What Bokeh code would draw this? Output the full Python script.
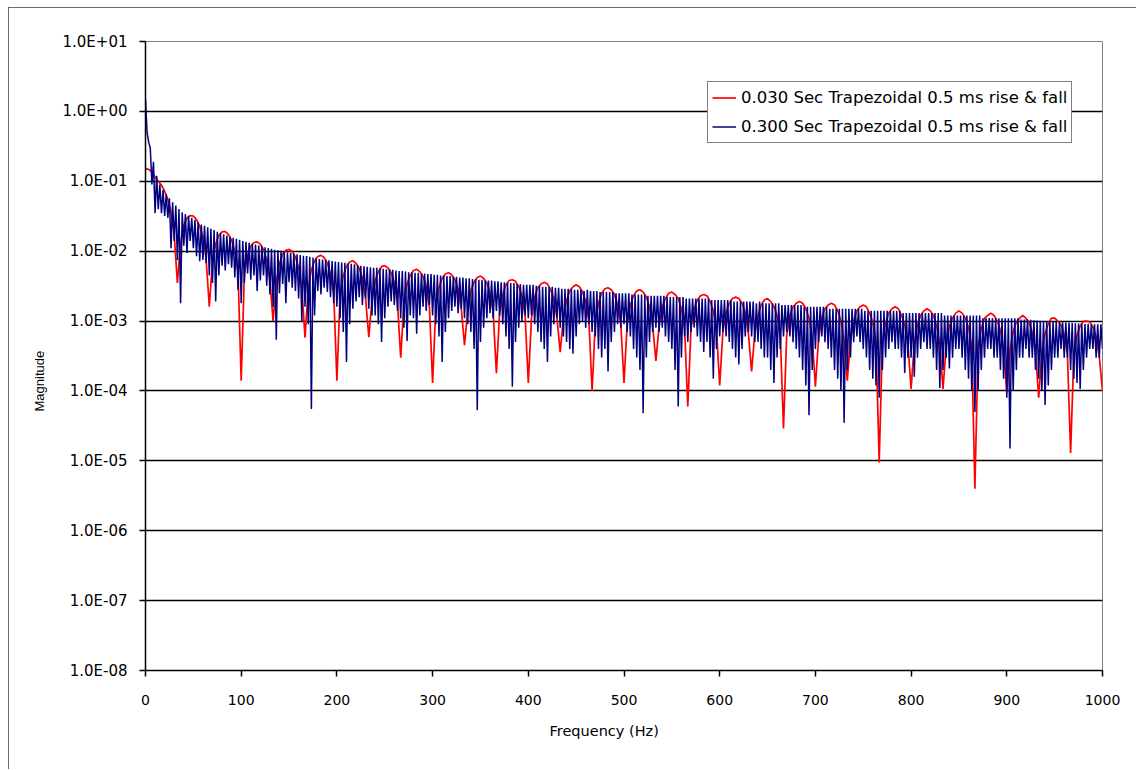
import numpy as np
from bokeh.plotting import figure
from bokeh.models import (Range1d, FixedTicker, CustomJSTickFormatter, Legend,
                          LegendItem, Title)
from bokeh.embed import file_html
from bokeh.resources import INLINE

# ---------------- data ----------------
# 0.030 s pulse: samples every 3.33 Hz from 0 to 1000 Hz (one row = one 33.3 Hz lobe)
red_mag = [
    0.152, 0.148, 0.135, 0.115, 0.1, 0.088, 0.072, 0.055, 0.036, 0.017,
    0.0035, 0.0134, 0.0235, 0.0297, 0.0324, 0.0318, 0.0283, 0.0228, 0.0156, 0.0078,
    0.0016, 0.0070, 0.0128, 0.0168, 0.0189, 0.0191, 0.0174, 0.0143, 0.0100, 0.0051,
    0.00014, 0.0048, 0.0088, 0.0117, 0.0133, 0.0136, 0.0126, 0.0104, 0.0074, 0.0038,
    0.001, 0.0036, 0.0067, 0.0090, 0.0103, 0.0106, 0.0099, 0.0082, 0.0058, 0.0030,
    0.00058, 0.0029, 0.0054, 0.0073, 0.0084, 0.0087, 0.0081, 0.0067, 0.0048, 0.0025,
    0.00014, 0.0024, 0.0045, 0.0061, 0.0070, 0.0073, 0.0067, 0.0057, 0.0041, 0.0021,
    0.00059, 0.0020, 0.0038, 0.0051, 0.0060, 0.0062, 0.0058, 0.0049, 0.0035, 0.0018,
    0.0003, 0.0018, 0.0034, 0.0045, 0.0053, 0.0055, 0.0051, 0.0043, 0.0031, 0.0016,
    0.00013, 0.0016, 0.0030, 0.0041, 0.0047, 0.0049, 0.0046, 0.0039, 0.0028, 0.0015,
    0.00045, 0.0014, 0.0027, 0.0036, 0.0042, 0.0044, 0.0041, 0.0035, 0.0025, 0.0013,
    0.00018, 0.0013, 0.0024, 0.0033, 0.0038, 0.0039, 0.0037, 0.0031, 0.0023, 0.0012,
    0.00013, 0.0011, 0.0022, 0.0030, 0.0034, 0.0036, 0.0034, 0.0028, 0.0021, 0.0011,
    0.00036, 0.0011, 0.0020, 0.0027, 0.0031, 0.0033, 0.0031, 0.0026, 0.0019, 0.0010,
    0.0001, 0.00096, 0.0018, 0.0025, 0.0029, 0.0030, 0.0028, 0.0024, 0.0017, 0.0009,
    0.00013, 0.0009, 0.0017, 0.0023, 0.0027, 0.0028, 0.0026, 0.0022, 0.0016, 0.00084,
    0.00027, 0.00084, 0.0016, 0.0021, 0.0025, 0.0026, 0.0024, 0.0021, 0.0015, 0.00078,
    0.00006, 0.00078, 0.0015, 0.0020, 0.0023, 0.0024, 0.0023, 0.0019, 0.0014, 0.00072,
    0.00012, 0.00071, 0.0013, 0.0018, 0.0021, 0.0022, 0.0021, 0.0018, 0.0013, 0.00066,
    0.00019, 0.00066, 0.0012, 0.0017, 0.0020, 0.0021, 0.0019, 0.0016, 0.0012, 0.00062,
    0.000029, 0.00062, 0.0012, 0.0016, 0.0018, 0.0019, 0.0018, 0.0015, 0.0011, 0.00057,
    0.000115, 0.00057, 0.0011, 0.0015, 0.0017, 0.0018, 0.0017, 0.0014, 0.0010, 0.00053,
    0.00014, 0.00053, 0.0010, 0.0014, 0.0016, 0.0017, 0.0016, 0.0013, 0.00095, 0.0005,
    0.0000095, 0.0005, 0.00094, 0.0013, 0.0015, 0.0016, 0.0015, 0.0012, 0.00089, 0.00047,
    0.000107, 0.00047, 0.00089, 0.0012, 0.0014, 0.0015, 0.0014, 0.0012, 0.00086, 0.00045,
    0.000107, 0.00044, 0.00084, 0.0011, 0.0013, 0.0014, 0.0013, 0.0011, 0.00081, 0.00042,
    0.000004, 0.00042, 0.00079, 0.0011, 0.0012, 0.0013, 0.0012, 0.0010, 0.00074, 0.00039,
    0.000095, 0.00038, 0.00071, 0.00097, 0.0011, 0.0012, 0.0011, 0.00094, 0.00068, 0.00036,
    0.00008, 0.00035, 0.00067, 0.00091, 0.0011, 0.0011, 0.0010, 0.00088, 0.00064, 0.00034,
    0.000013, 0.00033, 0.00062, 0.00085, 0.00099, 0.0010, 0.00097, 0.00082, 0.0006, 0.00031,
    0.0001,
]

# 0.300 s pulse: samples every 1.67 Hz from 0 to 1000 Hz (one row = 20 Hz)
blue_mag = [
    1.5, 0.5, 0.36, 0.3, 0.09, 0.19, 0.035, 0.12, 0.04, 0.09, 0.035, 0.075,
    0.032, 0.065, 0.03, 0.057, 0.011, 0.05, 0.014, 0.045, 0.0074, 0.04, 0.0018, 0.036,
    0.012, 0.034, 0.0094, 0.032, 0.014, 0.030, 0.011, 0.028, 0.0085, 0.026, 0.0072, 0.024,
    0.0075, 0.023, 0.0067, 0.022, 0.0045, 0.021, 0.0035, 0.020, 0.0019, 0.019, 0.0045, 0.018,
    0.0062, 0.0175, 0.0053, 0.0168, 0.0065, 0.016, 0.0058, 0.0155, 0.0042, 0.015, 0.0028, 0.0145,
    0.0018, 0.014, 0.0035, 0.0136, 0.0048, 0.0132, 0.0039, 0.0128, 0.0045, 0.0124, 0.0027, 0.012,
    0.0038, 0.0117, 0.0045, 0.0114, 0.0032, 0.0111, 0.0024, 0.0108, 0.0016, 0.0105, 0.00054, 0.0103,
    0.0025, 0.0101, 0.0034, 0.0098, 0.0018, 0.0096, 0.0036, 0.0094, 0.003, 0.0092, 0.0027, 0.009,
    0.0021, 0.0088, 0.001, 0.0086, 0.0016, 0.0085, 0.0009, 0.0083, 0.000055, 0.0081, 0.0012, 0.0079,
    0.0027, 0.0077, 0.0024, 0.0076, 0.003, 0.0075, 0.0026, 0.0074, 0.0022, 0.0072, 0.0018, 0.0071,
    0.0016, 0.007, 0.0011, 0.0069, 0.0007, 0.0068, 0.00026, 0.0067, 0.0009, 0.0066, 0.0015, 0.0065,
    0.0019, 0.0063, 0.0022, 0.0062, 0.0017, 0.0061, 0.0021, 0.006, 0.0015, 0.0059, 0.0012, 0.0058,
    0.0012, 0.0058, 0.0009, 0.0057, 0.0005, 0.0056, 0.0011, 0.0055, 0.0016, 0.0055, 0.0019, 0.0054,
    0.0017, 0.0053, 0.0014, 0.0052, 0.0011, 0.0052, 0.0008, 0.0051, 0.00052, 0.005, 0.0012, 0.005,
    0.0011, 0.0049, 0.00066, 0.0049, 0.0012, 0.0048, 0.0016, 0.0048, 0.0014, 0.0047, 0.0017, 0.0047,
    0.0012, 0.0046, 0.0009, 0.0046, 0.0006, 0.0045, 0.00026, 0.0045, 0.0007, 0.0044, 0.0011, 0.0044,
    0.0014, 0.0043, 0.0016, 0.0043, 0.0013, 0.0042, 0.0015, 0.0042, 0.0011, 0.0041, 0.0009, 0.0041,
    0.0007, 0.004, 0.0004, 0.004, 0.000053, 0.0039, 0.0005, 0.0039, 0.0008, 0.0038, 0.0011, 0.0038,
    0.0013, 0.0038, 0.0011, 0.0037, 0.0014, 0.0037, 0.0012, 0.0036, 0.0009, 0.0036, 0.0006, 0.0035,
    0.0004, 0.0035, 0.000115, 0.0035, 0.0005, 0.0034, 0.0008, 0.0034, 0.001, 0.0033, 0.0012, 0.0033,
    0.0011, 0.0033, 0.0012, 0.0033, 0.0009, 0.0032, 0.0007, 0.0032, 0.0005, 0.0031, 0.0004, 0.0031,
    0.00026, 0.0031, 0.0006, 0.0031, 0.0009, 0.003, 0.0011, 0.003, 0.0008, 0.0029, 0.0006, 0.0029,
    0.0005, 0.0029, 0.0004, 0.0029, 0.00034, 0.0028, 0.0006, 0.0028, 0.0009, 0.0028, 0.001, 0.0027,
    0.0008, 0.0028, 0.0009, 0.0027, 0.0007, 0.0027, 0.0006, 0.0027, 0.0004, 0.0026, 0.0003, 0.0026,
    0.0004, 0.0026, 0.00019, 0.0026, 0.0005, 0.0026, 0.0007, 0.0025, 0.0009, 0.0025, 0.0008, 0.0025,
    0.0009, 0.0025, 0.0007, 0.0025, 0.0006, 0.0024, 0.0004, 0.0024, 0.0003, 0.0024, 0.0002, 0.0024,
    0.000048, 0.0024, 0.0003, 0.0023, 0.0005, 0.0023, 0.0007, 0.0023, 0.0008, 0.0023, 0.0007, 0.0023,
    0.0008, 0.0023, 0.0006, 0.0022, 0.0005, 0.0022, 0.0004, 0.0022, 0.0002, 0.0022, 0.00006, 0.0022,
    0.0003, 0.0022, 0.0006, 0.0021, 0.0005, 0.0021, 0.0007, 0.0021, 0.0008, 0.0021, 0.0006, 0.0021,
    0.0005, 0.0021, 0.00036, 0.0021, 0.0005, 0.0021, 0.0003, 0.002, 0.00015, 0.002, 0.0004, 0.002,
    0.0006, 0.002, 0.0007, 0.002, 0.0006, 0.002, 0.0005, 0.002, 0.0004, 0.0019, 0.0003, 0.0019,
    0.00024, 0.0019, 0.0004, 0.0019, 0.0006, 0.0019, 0.0007, 0.0019, 0.0006, 0.0019, 0.0005, 0.0018,
    0.0005, 0.0019, 0.0004, 0.0018, 0.0003, 0.0018, 0.0003, 0.0018, 0.0002, 0.0018, 0.00013, 0.0018,
    0.0003, 0.0018, 0.0004, 0.0017, 0.0006, 0.0017, 0.0007, 0.0017, 0.0006, 0.0017, 0.0005, 0.0017,
    0.0004, 0.0017, 0.0003, 0.0017, 0.0002, 0.0016, 0.00012, 0.0016, 0.000045, 0.0016, 0.0002, 0.0016,
    0.0004, 0.0016, 0.0005, 0.0016, 0.0006, 0.0016, 0.0005, 0.0016, 0.0004, 0.0015, 0.0003, 0.0015,
    0.0002, 0.0015, 0.00015, 0.0015, 0.0001, 0.0015, 0.000035, 0.0015, 0.0002, 0.0015, 0.0003, 0.0015,
    0.0005, 0.0015, 0.0006, 0.0015, 0.0005, 0.0015, 0.0004, 0.0014, 0.0003, 0.0014, 0.0002, 0.0014,
    0.00015, 0.0014, 0.00012, 0.0014, 0.00008, 0.0014, 0.0002, 0.0014, 0.0003, 0.0014, 0.0004, 0.0014,
    0.0005, 0.0014, 0.0004, 0.0014, 0.0004, 0.0014, 0.0003, 0.0013, 0.00018, 0.0013, 0.0003, 0.0013,
    0.0003, 0.0013, 0.00016, 0.0013, 0.0003, 0.0013, 0.0004, 0.0013, 0.0005, 0.0013, 0.0004, 0.0013,
    0.0004, 0.0013, 0.0003, 0.0013, 0.0002, 0.0013, 0.00011, 0.0013, 0.0002, 0.0012, 0.0003, 0.0012,
    0.00021, 0.0012, 0.0003, 0.0012, 0.0004, 0.0012, 0.0004, 0.0012, 0.0003, 0.0012, 0.0002, 0.0012,
    0.00015, 0.0012, 0.0001, 0.0012, 0.00005, 0.0012, 0.0001, 0.0012, 0.0002, 0.0011, 0.0003, 0.0011,
    0.0004, 0.0011, 0.0004, 0.0011, 0.0003, 0.0011, 0.0003, 0.0011, 0.0002, 0.0011, 0.00015, 0.0011,
    0.00008, 0.0011, 0.000015, 0.0011, 0.0001, 0.0011, 0.0002, 0.0011, 0.0003, 0.00105, 0.0003, 0.00105,
    0.0004, 0.00105, 0.0003, 0.00104, 0.0003, 0.00103, 0.0002, 0.00102, 0.00015, 0.00101, 0.0001, 0.001,
    0.000063, 0.001, 0.00012, 0.00099, 0.0002, 0.00098, 0.0003, 0.00097, 0.0003, 0.00096, 0.0004, 0.00096,
    0.0003, 0.00095, 0.0003, 0.00095, 0.0002, 0.00094, 0.00015, 0.00093, 0.00013, 0.00092, 0.000107, 0.00092,
    0.0002, 0.00091, 0.0003, 0.00091, 0.0004, 0.0009, 0.0004, 0.0009, 0.0003, 0.0009, 0.0003, 0.0009,
    0.0004,
]

red_freq = np.linspace(0, 1000, len(red_mag))
blue_freq = np.linspace(0, 1000, len(blue_mag))

red_label = "0.030 Sec Trapezoidal 0.5 ms rise & fall"
blue_label = "0.300 Sec Trapezoidal 0.5 ms rise & fall"
x_ticks = [0, 100, 200, 300, 400, 500, 600, 700, 800, 900, 1000]
y_ticks = [1e-8, 1e-7, 1e-6, 1e-5, 1e-4, 1e-3, 1e-2, 1e-1, 1e0, 1e1]
x_title = "Frequency (Hz)"
y_title = "Magnitude"

FONT = "DejaVu Sans"

p = figure(width=1128, height=762, y_axis_type="log",
           x_range=Range1d(0, 1000), y_range=Range1d(1e-8, 1e1),
           output_backend="svg", toolbar_location=None,
           min_border_left=137, min_border_right=34,
           min_border_top=34, min_border_bottom=99,
           background_fill_color="white", border_fill_color="white",
           outline_line_color="#808080", outline_line_width=1)
p.styles = {"margin": "7px 0px 0px 8px",
            "outline": "1px solid #3a3a3a", "outline-offset": "-1px"}

# axes
p.xaxis.ticker = FixedTicker(ticks=x_ticks)
p.yaxis.ticker = FixedTicker(ticks=y_ticks)
p.yaxis.formatter = CustomJSTickFormatter(code="""
    const e = Math.round(Math.log10(tick));
    const s = e < 0 ? '-' : '+';
    const a = Math.abs(e);
    return '1.0E' + s + (a < 10 ? '0' + a : '' + a);
""")
for ax in (p.xaxis[0], p.yaxis[0]):
    ax.axis_line_color = "black"
    ax.axis_line_width = 1.5
    ax.major_tick_line_color = "black"
    ax.major_tick_line_width = 1.5
    ax.major_tick_out = 6
    ax.major_tick_in = 0
    ax.minor_tick_out = 0
    ax.minor_tick_in = 0
    ax.major_label_text_font = FONT
    ax.major_label_text_color = "black"
p.xaxis.major_label_text_font_size = "14px"
p.yaxis.major_label_text_font_size = "15px"
p.yaxis.major_label_standoff = 12
p.xaxis.major_label_standoff = 18

# grid
p.xgrid.visible = False
p.ygrid.ticker = FixedTicker(ticks=y_ticks[1:-1])
p.ygrid.grid_line_color = "black"
p.ygrid.grid_line_width = 1.5

# series
r_red = p.line(red_freq, red_mag, line_color="#FF0000", line_width=1.7)
r_blue = p.line(blue_freq, blue_mag, line_color="#000080", line_width=1.5)

legend = Legend(items=[LegendItem(label=red_label, renderers=[r_red]),
                       LegendItem(label=blue_label, renderers=[r_blue])],
                location=(562, 527), orientation="vertical",
                border_line_color="black", border_line_width=1,
                background_fill_color="white", background_fill_alpha=1.0,
                padding=4, spacing=6, margin=0,
                label_height=23, glyph_height=23, glyph_width=24,
                label_standoff=5,
                label_text_font=FONT, label_text_font_size="16.5px",
                label_text_color="black")
p.add_layout(legend)

p.add_layout(Title(text=x_title, align="left", offset=404, standoff=26,
                   text_font=FONT, text_font_size="14.5px",
                   text_font_style="normal", text_color="black"), "below")
p.add_layout(Title(text=y_title, align="left", offset=259, standoff=26,
                   text_font="Liberation Sans", text_font_size="13px",
                   text_font_style="normal", text_color="black"), "left")

open("out.html", "w").write(file_html(p, INLINE))
